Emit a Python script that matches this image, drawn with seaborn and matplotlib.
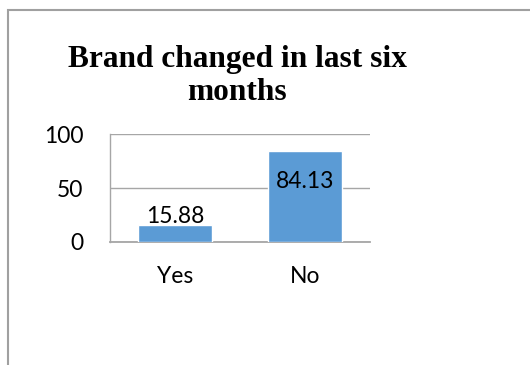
import matplotlib
matplotlib.use("Agg")
import matplotlib.pyplot as plt
import seaborn as sns
import pandas as pd
from matplotlib.patches import Rectangle

categories = ["Yes", "No"]
values = [15.88, 84.13]
y_ticks = [0, 50, 100]
title = "Brand changed in last six\nmonths"

bar_color = "#5B9BD5"
grid_color = "#A6A6A6"

sns.set_theme(style="white")
plt.rcParams["font.family"] = ["Lato", "DejaVu Sans"]

df = pd.DataFrame({"answer": categories, "percent": values})

W, H = 530, 365
fig = plt.figure(figsize=(W / 100, H / 100), dpi=100)

# chart frame (only top and left edges fall inside the canvas)
fig.patches.append(Rectangle((8 / W, -0.1), 1.2, 1 - 10 / H + 0.1,
                             transform=fig.transFigure, fill=False,
                             edgecolor="#A0A0A0", linewidth=1.5))

ax = fig.add_axes([110 / W, 1 - 242 / H, 260 / W, 108 / H])
sns.barplot(data=df, x="answer", y="percent", color=bar_color,
            saturation=1, width=0.57, ax=ax, zorder=3)

ax.set_xlim(-0.5, 1.5)
ax.set_ylim(0, 100)
ax.set_yticks(y_ticks)
ax.set_yticklabels([str(t) for t in y_ticks])
ax.set_xlabel("")
ax.set_ylabel("")
ax.yaxis.grid(True, color=grid_color, linewidth=1.0, zorder=0)
ax.set_axisbelow(True)
for side in ["top", "right"]:
    ax.spines[side].set_visible(False)
ax.spines["left"].set_color(grid_color)
ax.spines["bottom"].set_color(grid_color)
ax.spines["left"].set_linewidth(1.0)
ax.spines["bottom"].set_linewidth(1.3)
ax.tick_params(axis="y", length=0, pad=19, labelsize=16.5, labelcolor="black")
ax.tick_params(axis="x", length=0, pad=17, labelsize=16.5, labelcolor="black")

# value labels: outside end for the short bar, pushed inside for the tall one
for i, v in enumerate(values):
    if v < 60:
        ax.annotate(f"{v:.2f}", xy=(i, v), xytext=(0, 1.5),
                    textcoords="offset points", ha="center", va="baseline",
                    fontsize=16.5, color="black", zorder=5)
    else:
        ax.annotate(f"{v:.2f}", xy=(i, v), xytext=(0, -22),
                    textcoords="offset points", ha="center", va="center",
                    fontsize=16.5, color="black", zorder=5)

# baseline of the last title line
fig.text(237 / W, 1 - 100 / H, title, ha="center", va="baseline",
         family=["Liberation Serif", "DejaVu Serif"], fontweight="bold",
         fontsize=22.6, linespacing=1.18, color="black")

fig.savefig("out.png", dpi=100)
